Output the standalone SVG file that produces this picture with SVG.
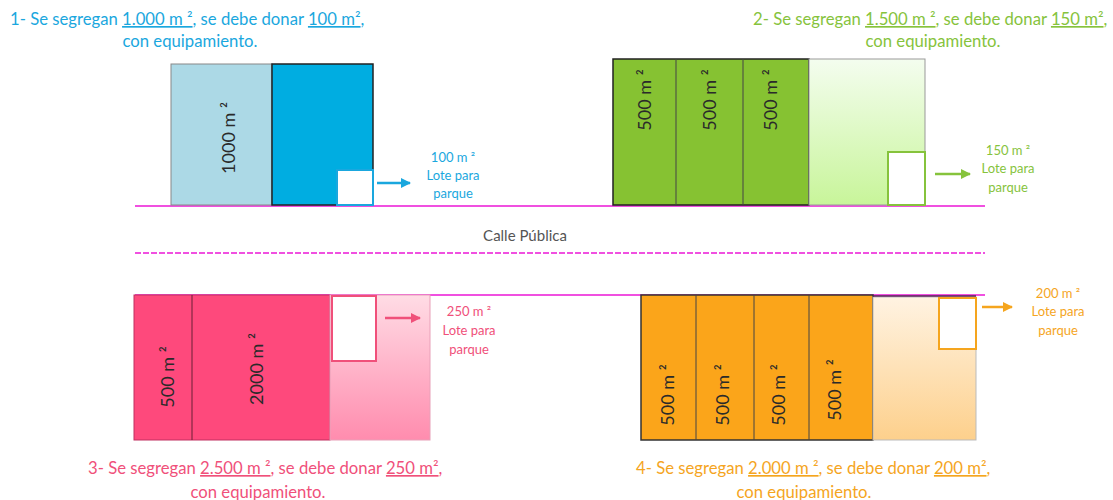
<svg xmlns="http://www.w3.org/2000/svg" width="1113" height="500" viewBox="0 0 1113 500">
<defs>
<linearGradient id="gGreen" x1="0" y1="0" x2="0" y2="1"><stop offset="0" stop-color="#f4fdef"/><stop offset="1" stop-color="#c8f59a"/></linearGradient>
<linearGradient id="gPink" x1="0" y1="0" x2="0" y2="1"><stop offset="0" stop-color="#ffdce5"/><stop offset="1" stop-color="#ff8cae"/></linearGradient>
<linearGradient id="gOrange" x1="0" y1="0" x2="0" y2="1"><stop offset="0" stop-color="#fff3e2"/><stop offset="1" stop-color="#fdd08c"/></linearGradient>
<marker id="aBlue" viewBox="0 0 10 10" refX="9" refY="5" markerWidth="4" markerHeight="4" orient="auto"><path d="M0,0 L10,5 L0,10 z" fill="#1aa7de"/></marker>
<marker id="aGreen" viewBox="0 0 10 10" refX="9" refY="5" markerWidth="4" markerHeight="4" orient="auto"><path d="M0,0 L10,5 L0,10 z" fill="#86c33c"/></marker>
<marker id="aPink" viewBox="0 0 10 10" refX="9" refY="5" markerWidth="4" markerHeight="4" orient="auto"><path d="M0,0 L10,5 L0,10 z" fill="#f0507a"/></marker>
<marker id="aOrange" viewBox="0 0 10 10" refX="9" refY="5" markerWidth="4" markerHeight="4" orient="auto"><path d="M0,0 L10,5 L0,10 z" fill="#f5a51e"/></marker>
</defs>
<style>
text{font-family:Lato,"Liberation Sans",sans-serif;}
.cap{font-size:16.7px;}
.u{text-decoration:underline;}
.lbl{font-size:13px;text-anchor:middle;}
.rot{font-size:18px;fill:#2a2a2a;text-anchor:middle;}
.road{stroke:#f050e0;stroke-width:2;fill:none;}
.blue{fill:#1aa7de;} .green{fill:#86c33c;} .pink{fill:#f0507a;} .orange{fill:#f5a51e;}
.arr{stroke-width:2.5;fill:none;}
</style>

<g id="roads">
<line class="road" x1="135" y1="206" x2="985" y2="206"/>
<line class="road" x1="135" y1="253" x2="985" y2="253" stroke-dasharray="6,2"/>
<line class="road" x1="135" y1="295" x2="985" y2="295" stroke-width="1.5"/>
<text x="525" y="241" font-size="15" fill="#555" text-anchor="middle">Calle Pública</text>
</g>

<g id="caption1" class="blue">
<text class="cap" x="10" y="25">1- Se segregan <tspan class="u">1.000 m ²</tspan>, se debe donar <tspan class="u">100 m²</tspan>,</text>
<text class="cap" x="190" y="47" text-anchor="middle">con equipamiento.</text>
</g>
<g id="caption2" class="green">
<text class="cap" x="753" y="25">2- Se segregan <tspan class="u">1.500 m ²</tspan>, se debe donar <tspan class="u">150 m²</tspan>,</text>
<text class="cap" x="933" y="47" text-anchor="middle">con equipamiento.</text>
</g>
<g id="caption3" class="pink">
<text class="cap" x="88" y="474">3- Se segregan <tspan class="u">2.500 m ²</tspan>, se debe donar <tspan class="u">250 m²</tspan>,</text>
<text class="cap" x="258" y="498" text-anchor="middle">con equipamiento.</text>
</g>
<g id="caption4" class="orange">
<text class="cap" x="636" y="474">4- Se segregan <tspan class="u">2.000 m ²</tspan>, se debe donar <tspan class="u">200 m²</tspan>,</text>
<text class="cap" x="804" y="498" text-anchor="middle">con equipamiento.</text>
</g>

<g id="lot1">
<rect x="171" y="64" width="101" height="141" fill="#acd9e6" stroke="#888" stroke-width="1"/>
<rect x="272" y="64" width="101" height="141" fill="#00ade1" stroke="#222" stroke-width="1.5"/>
<rect x="337" y="170" width="36" height="35" fill="#fff" stroke="#1aa7de" stroke-width="2"/>
<text class="rot" transform="translate(235,138) rotate(-90)">1000 m ²</text>
</g>

<g id="lot2">
<rect x="613" y="59" width="196" height="146" fill="#86c232" stroke="#222" stroke-width="1.5"/>
<line x1="676" y1="59" x2="676" y2="205" stroke="#444" stroke-width="1"/>
<line x1="743" y1="59" x2="743" y2="205" stroke="#444" stroke-width="1"/>
<rect x="809" y="59" width="116" height="146" fill="url(#gGreen)" stroke="#999" stroke-width="1"/>
<rect x="888" y="152" width="37" height="53" fill="#fff" stroke="#86c33c" stroke-width="2"/>
<text class="rot" transform="translate(651,100) rotate(-90)">500 m ²</text>
<text class="rot" transform="translate(716,100) rotate(-90)">500 m ²</text>
<text class="rot" transform="translate(777,100) rotate(-90)">500 m ²</text>
</g>

<g id="lot3">
<rect x="134" y="295" width="196" height="145" fill="#fe497c" stroke="#c03060" stroke-width="1"/>
<line x1="192" y1="295" x2="192" y2="440" stroke="#6a2035" stroke-width="1"/>
<rect x="330" y="295" width="100" height="145" fill="url(#gPink)" stroke="#e8a0b8" stroke-width="1"/>
<rect x="332" y="296" width="44" height="65" fill="#fff" stroke="#f0507a" stroke-width="2"/>
<text class="rot" transform="translate(174,377) rotate(-90)">500 m ²</text>
<text class="rot" transform="translate(263,369) rotate(-90)">2000 m ²</text>
</g>

<g id="lot4">
<rect x="641" y="295" width="232" height="145" fill="#fba51a" stroke="#333" stroke-width="1.5"/>
<line x1="696" y1="295" x2="696" y2="440" stroke="#444" stroke-width="1"/>
<line x1="754" y1="295" x2="754" y2="440" stroke="#444" stroke-width="1"/>
<line x1="809" y1="295" x2="809" y2="440" stroke="#444" stroke-width="1"/>
<rect x="873" y="297" width="103" height="143" fill="url(#gOrange)" stroke="#bbb" stroke-width="1"/>
<line x1="873" y1="296" x2="976" y2="296" stroke="#552255" stroke-width="1.5"/>
<rect x="939" y="298" width="37" height="51" fill="#fff" stroke="#f5a51e" stroke-width="2"/>
<text class="rot" transform="translate(674,395) rotate(-90)">500 m ²</text>
<text class="rot" transform="translate(729,395) rotate(-90)">500 m ²</text>
<text class="rot" transform="translate(785,395) rotate(-90)">500 m ²</text>
<text class="rot" transform="translate(841,390) rotate(-90)">500 m ²</text>
</g>

<g id="connectors">
<line class="arr" x1="377" y1="183" x2="410" y2="183" stroke="#1aa7de" marker-end="url(#aBlue)"/>
<line class="arr" x1="935" y1="174" x2="970" y2="174" stroke="#86c33c" marker-end="url(#aGreen)"/>
<line class="arr" x1="385" y1="318" x2="420" y2="318" stroke="#f0507a" marker-end="url(#aPink)"/>
<line class="arr" x1="982" y1="307" x2="1012" y2="307" stroke="#f5a51e" marker-end="url(#aOrange)"/>
</g>

<g id="park1" class="blue">
<text class="lbl" x="453" y="162">100 m ²</text>
<text class="lbl" x="453" y="180">Lote para</text>
<text class="lbl" x="453" y="198">parque</text>
</g>
<g id="park2" class="green">
<text class="lbl" x="1008" y="155">150 m ²</text>
<text class="lbl" x="1008" y="173">Lote para</text>
<text class="lbl" x="1008" y="192">parque</text>
</g>
<g id="park3" class="pink">
<text class="lbl" x="469" y="316">250 m ²</text>
<text class="lbl" x="469" y="335">Lote para</text>
<text class="lbl" x="469" y="354">parque</text>
</g>
<g id="park4" class="orange">
<text class="lbl" x="1058" y="298">200 m ²</text>
<text class="lbl" x="1058" y="316">Lote para</text>
<text class="lbl" x="1058" y="335">parque</text>
</g>
</svg>
